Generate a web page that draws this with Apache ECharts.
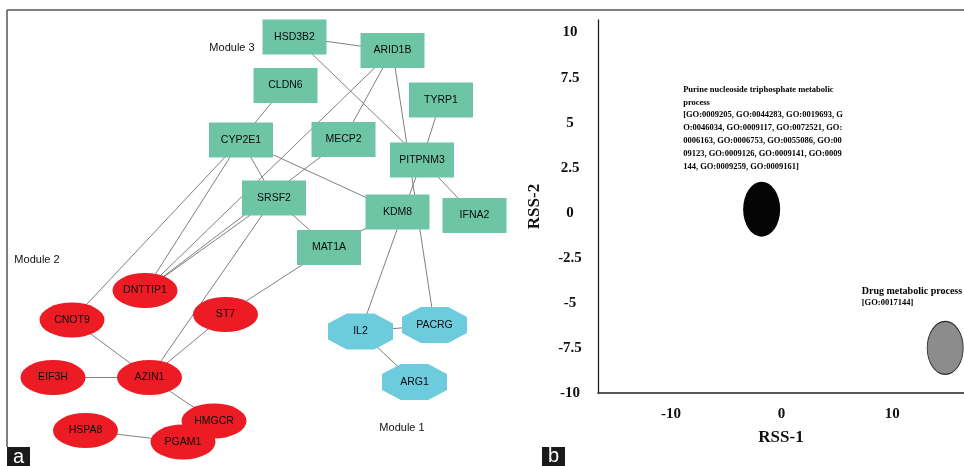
<!DOCTYPE html>
<html>
<head>
<meta charset="utf-8">
<script src="https://cdn.jsdelivr.net/npm/echarts@6/dist/echarts.min.js"></script>
<style>
html, body { margin: 0; padding: 0; background: #fff; }
#main { width: 964px; height: 466px; }
</style>
</head>
<body>
<div id="main"></div>
<script>
// panel a: gene network (layout units of panel a)
const geneNames = ['HSD3B2', 'ARID1B', 'CLDN6', 'TYRP1', 'CYP2E1', 'MECP2', 'PITPNM3', 'SRSF2', 'KDM8', 'IFNA2', 'MAT1A',
    'DNTTIP1', 'CNOT9', 'ST7', 'EIF3H', 'AZIN1', 'HMGCR', 'HSPA8', 'PGAM1',
    'IL2', 'PACRG', 'ARG1'];
const geneX = [294.5, 392.5, 285.5, 441, 241, 343.5, 422, 274, 397.5, 474.5, 329,
    145, 72, 225.5, 53, 149.5, 214, 85.5, 183,
    360.5, 434.5, 414.5];
const geneY = [37, 50.5, 85.5, 100, 140, 139.5, 160, 198, 212, 215.5, 247.5,
    290.5, 320, 314.5, 377.5, 377.5, 421, 430.5, 442,
    331.5, 325, 382];
const geneModule = [3, 3, 3, 3, 3, 3, 3, 3, 3, 3, 3,
    2, 2, 2, 2, 2, 2, 2, 2,
    1, 1, 1];
const linkSource = ['HSD3B2', 'HSD3B2', 'ARID1B', 'ARID1B', 'ARID1B', 'CLDN6', 'CYP2E1', 'CYP2E1', 'CYP2E1', 'CYP2E1',
    'MECP2', 'TYRP1', 'PITPNM3', 'PITPNM3', 'SRSF2', 'SRSF2', 'SRSF2', 'KDM8', 'MAT1A', 'ST7',
    'CNOT9', 'EIF3H', 'AZIN1', 'HSPA8', 'HMGCR', 'IL2', 'IL2'];
const linkTarget = ['ARID1B', 'PITPNM3', 'MECP2', 'DNTTIP1', 'PACRG', 'CYP2E1', 'SRSF2', 'KDM8', 'CNOT9', 'DNTTIP1',
    'DNTTIP1', 'PITPNM3', 'IFNA2', 'IL2', 'DNTTIP1', 'MAT1A', 'AZIN1', 'MAT1A', 'ST7', 'AZIN1',
    'AZIN1', 'AZIN1', 'HMGCR', 'PGAM1', 'PGAM1', 'PACRG', 'ARG1'];
const moduleLabels = ['Module 1', 'Module 2', 'Module 3'];
const moduleLabelX = [402, 37, 232];
const moduleLabelY = [428, 260, 48];

// panel b: GO term clusters
const termNames = ['Purine nucleoside triphosphate metabolic\nprocess', 'Drug metabolic process'];
const termGO = [
    '[GO:0009205, GO:0044283, GO:0019693, G\nO:0046034, GO:0009117, GO:0072521, GO:\n0006163, GO:0006753, GO:0055086, GO:00\n09123, GO:0009126, GO:0009141, GO:0009\n144, GO:0009259, GO:0009161]',
    '[GO:0017144]'
];
const rss1 = [-1.8, 14.8];
const rss2 = [0.2, -7.5];
const rss1Ticks = [-10, 0, 10];
const rss2Ticks = [-10, -7.5, -5, -2.5, 0, 2.5, 5, 7.5, 10];

const octagon = 'path://M29,0 L71,0 L100,28 L100,72 L71,100 L29,100 L0,72 L0,28 Z';
const moduleStyle = {
    1: { symbol: octagon, symbolSize: [65, 36], color: '#6ccbdc' },
    2: { symbol: 'circle', symbolSize: [65, 35], color: '#ed1c24' },
    3: { symbol: 'rect', symbolSize: [64, 35], color: '#6dc5a5' }
};

const nodes = geneNames.map((name, i) => {
    const st = moduleStyle[geneModule[i]];
    return {
        name: name,
        value: [geneX[i], geneY[i]],
        symbol: st.symbol,
        symbolSize: st.symbolSize,
        itemStyle: { color: st.color }
    };
});
const links = linkSource.map((s, i) => ({ source: s, target: linkTarget[i] }));

const serif = 'Liberation Serif';
const termData = termNames.map((name, i) => ({
    value: [rss1[i], rss2[i]],
    symbolSize: i === 0 ? [37, 55] : [36, 53],
    itemStyle: i === 0
        ? { color: '#050505', opacity: 1 }
        : { color: '#8c8c8c', borderColor: '#2a2a2a', borderWidth: 1, opacity: 1 },
    label: {
        show: true,
        position: i === 0 ? [-60, -9] : [-65, -13],
        align: 'left',
        verticalAlign: 'bottom',
        formatter: '{t|' + name.split('\n').join('}\n{t|') + '}\n{g|' + termGO[i].split('\n').join('}\n{g|') + '}',
        rich: {
            t: { fontFamily: serif, fontWeight: 'bold', fontSize: i === 0 ? 8.5 : 10, lineHeight: i === 0 ? 12.8 : 11, color: '#000' },
            g: { fontFamily: serif, fontWeight: 'bold', fontSize: 8.5, lineHeight: i === 0 ? 12.8 : 11, color: '#000' }
        }
    }
}));

const axisFont = { fontFamily: serif, fontWeight: 'bold', color: '#111' };

const graphic = [
    { type: 'line', shape: { x1: 7, y1: 10, x2: 964, y2: 10 }, style: { stroke: '#555', lineWidth: 1.5 } },
    { type: 'line', shape: { x1: 7, y1: 10, x2: 7, y2: 447 }, style: { stroke: '#555', lineWidth: 1.5 } },
    { type: 'rect', shape: { x: 7, y: 447, width: 23, height: 19 }, style: { fill: '#1a1a1a' } },
    { type: 'text', x: 18.5, y: 457, style: { text: 'a', fill: '#fff', font: '20px Liberation Sans', align: 'center', verticalAlign: 'middle' } },
    { type: 'rect', shape: { x: 542, y: 447, width: 23, height: 19 }, style: { fill: '#1a1a1a' } },
    { type: 'text', x: 553.5, y: 456, style: { text: 'b', fill: '#fff', font: '20px Liberation Sans', align: 'center', verticalAlign: 'middle' } }
];
moduleLabels.forEach((t, i) => {
    graphic.push({
        type: 'text', x: moduleLabelX[i], y: moduleLabelY[i],
        style: { text: t, fill: '#111', font: '11px Liberation Sans', align: 'center', verticalAlign: 'middle' }
    });
});

const chart = echarts.init(document.getElementById('main'));
chart.setOption({
    backgroundColor: '#fff',
    animation: false,
    graphic: graphic,
    grid: [
        { left: 598, top: 20, right: 0, bottom: 73 },
        { left: 0, top: 0, width: 530, height: 466 }
    ],
    xAxis: [
        {
            type: 'value', gridIndex: 0, min: -16.6, max: 16.5,
            axisLine: { onZero: false, lineStyle: { color: '#222', width: 1.5 } },
            axisTick: { show: false },
            splitLine: { show: false },
            axisLabel: Object.assign({ customValues: rss1Ticks, fontSize: 15, margin: 14 }, axisFont),
            name: 'RSS-1', nameLocation: 'middle', nameGap: 36,
            nameTextStyle: Object.assign({ fontSize: 17 }, axisFont)
        },
        { type: 'value', gridIndex: 1, min: 0, max: 530, show: false }
    ],
    yAxis: [
        {
            type: 'value', gridIndex: 0, min: -10, max: 10.7,
            axisLine: { show: true, onZero: false, lineStyle: { color: '#222', width: 1.3 } },
            axisTick: { show: false },
            splitLine: { show: false },
            axisLabel: Object.assign({ customValues: rss2Ticks, fontSize: 15, margin: 28, align: 'center' }, axisFont),
            name: 'RSS-2', nameLocation: 'middle', nameGap: 55,
            nameTextStyle: Object.assign({ fontSize: 17 }, axisFont)
        },
        { type: 'value', gridIndex: 1, min: 0, max: 466, inverse: true, show: false }
    ],
    series: [
        {
            type: 'graph',
            coordinateSystem: 'cartesian2d',
            xAxisIndex: 1,
            yAxisIndex: 1,
            silent: true,
            data: nodes,
            links: links,
            label: { show: true, position: 'inside', fontSize: 10.5, fontFamily: 'Liberation Sans', color: '#0a0a0a' },
            lineStyle: { color: '#808080', width: 1, opacity: 1, curveness: 0 }
        },
        {
            type: 'scatter',
            xAxisIndex: 0,
            yAxisIndex: 0,
            silent: true,
            symbol: 'circle',
            data: termData
        }
    ]
});
</script>
</body>
</html>
